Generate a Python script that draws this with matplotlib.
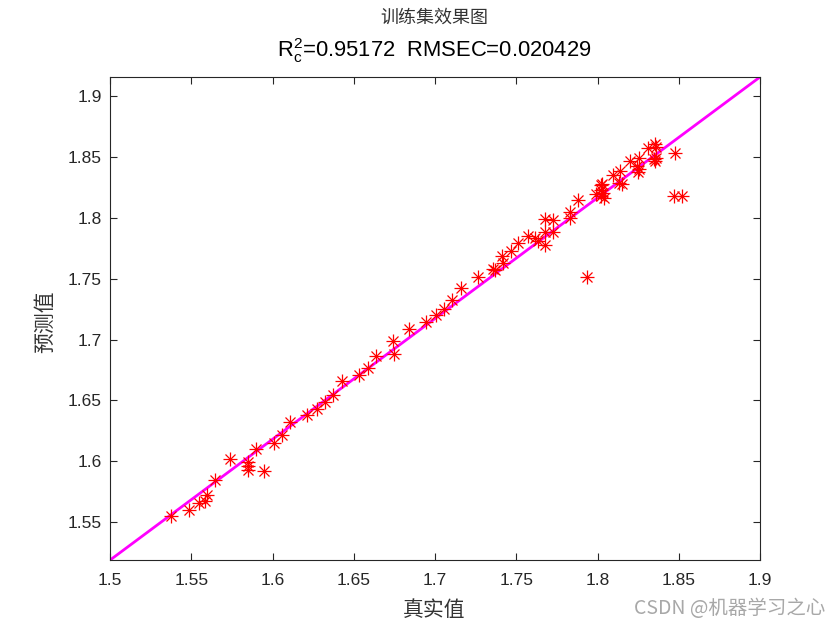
import numpy as np
import matplotlib
matplotlib.use('Agg')
import matplotlib.pyplot as plt

plt.rcParams['font.family'] = ['Liberation Sans', 'Noto Sans CJK SC']
plt.rcParams['mathtext.fontset'] = 'custom'
plt.rcParams['mathtext.rm'] = 'Liberation Sans'
plt.rcParams['mathtext.it'] = 'Liberation Sans'

# ----- datos -----
true_vals = [1.5378, 1.5484, 1.5546, 1.5585, 1.5595, 1.5643, 1.5741, 1.5849, 1.5849, 1.5847,
             1.5900, 1.5948, 1.6006, 1.6059, 1.6110,
             1.6211, 1.6271, 1.6325, 1.6374, 1.6425, 1.6533, 1.6588, 1.6636, 1.6739, 1.6746,
             1.6842, 1.6942, 1.7003, 1.7057, 1.7102, 1.7160, 1.7261, 1.7355, 1.7368, 1.7413,
             1.7415, 1.7464, 1.7512,
             1.7570, 1.7617, 1.7630, 1.7674, 1.7674, 1.7674, 1.7727, 1.7727, 1.7828, 1.7828,
             1.7882, 1.7932,
             1.7990, 1.8020, 1.8024, 1.8022, 1.8036, 1.8030, 1.8018,
             1.8093, 1.8140, 1.8134, 1.8150, 1.8196, 1.8253, 1.8257, 1.8251, 1.8240, 1.8311,
             1.8354, 1.8356, 1.8348, 1.8360, 1.8354, 1.8473, 1.8469, 1.8516]
pred_vals = [1.5550, 1.5602, 1.5656, 1.5670, 1.5721, 1.5842, 1.6016, 1.5996, 1.5961, 1.5928,
             1.6099, 1.5917, 1.6153, 1.6212, 1.6321,
             1.6378, 1.6428, 1.6486, 1.6545, 1.6660, 1.6707, 1.6770, 1.6868, 1.6990, 1.6878,
             1.7086, 1.7145, 1.7200, 1.7251, 1.7324, 1.7423, 1.7514, 1.7581, 1.7576, 1.7683,
             1.7632, 1.7732, 1.7794,
             1.7848, 1.7831, 1.7807, 1.7991, 1.7883, 1.7777, 1.7985, 1.7886, 1.8049, 1.7997,
             1.8148, 1.7516,
             1.8196, 1.8273, 1.8280, 1.8232, 1.8164, 1.8205, 1.8177,
             1.8356, 1.8390, 1.8285, 1.8281, 1.8472, 1.8402, 1.8496, 1.8378, 1.8428, 1.8578,
             1.8606, 1.8580, 1.8486, 1.8495, 1.8468, 1.8534, 1.8177, 1.8183]

# linea de ajuste (extremos)
fit_x = [1.5, 1.9]
fit_y = [1.5187, 1.9160]

xticks = [1.5, 1.55, 1.6, 1.65, 1.7, 1.75, 1.8, 1.85, 1.9]
xtick_labels = ['1.5', '1.55', '1.6', '1.65', '1.7', '1.75', '1.8', '1.85', '1.9']
yticks = [1.55, 1.6, 1.65, 1.7, 1.75, 1.8, 1.85, 1.9]
ytick_labels = ['1.55', '1.6', '1.65', '1.7', '1.75', '1.8', '1.85', '1.9']

title_cn = '训练集效果图'
title_stats = r'$\mathrm{R_c^2}$=0.95172  RMSEC=0.020429'

fig = plt.figure(figsize=(8.4, 6.3), dpi=100)
ax = fig.add_axes([0.131, 0.111, 0.774, 0.767])

# asterisco estilo MATLAB: + y x superpuestos
ax.plot(true_vals, pred_vals, linestyle='none', marker='+', markersize=9.5,
        markeredgewidth=0.9, color='red', zorder=3)
ax.plot(true_vals, pred_vals, linestyle='none', marker='x', markersize=7,
        markeredgewidth=0.9, color='red', zorder=3)
ax.plot(fit_x, fit_y, color='#ff00ff', linewidth=2, zorder=2)

ax.set_xlim(fit_x[0], fit_x[1])
ax.set_ylim(fit_y[0], fit_y[1])
ax.set_xticks(xticks)
ax.set_xticklabels(xtick_labels)
ax.set_yticks(yticks)
ax.set_yticklabels(ytick_labels)
ax.tick_params(direction='in', top=True, right=True, length=5, width=0.8,
               labelsize=12.5, colors='#262626')
ax.tick_params(axis='x', pad=9.5)
ax.tick_params(axis='y', pad=6)
for s in ax.spines.values():
    s.set_linewidth(0.8)
    s.set_color('#262626')

fig.text(0.517, 1 - 18 / 630, title_cn, ha='center', va='center', fontsize=13,
         family=['Noto Sans CJK SC'], color='#333333')
fig.text(0.517, 1 - 57 / 630, title_stats, ha='center', va='baseline', fontsize=15.8,
         color='black')
fig.text(0.517, 1 - 610 / 630, '真实值', ha='center', va='center', fontsize=15,
         family=['Noto Sans CJK SC'], color='#333333')
fig.text(45 / 840, 1 - 322 / 630, '预测值', ha='center', va='center', rotation=90,
         fontsize=15, family=['Noto Sans CJK SC'], color='#333333')
fig.text(0.982, 1 - 609 / 630, 'CSDN @机器学习之心', ha='right', va='center',
         fontsize=14, family=['Noto Sans CJK SC'], color='#a8a8a8')

plt.savefig('out.png', dpi=100)
